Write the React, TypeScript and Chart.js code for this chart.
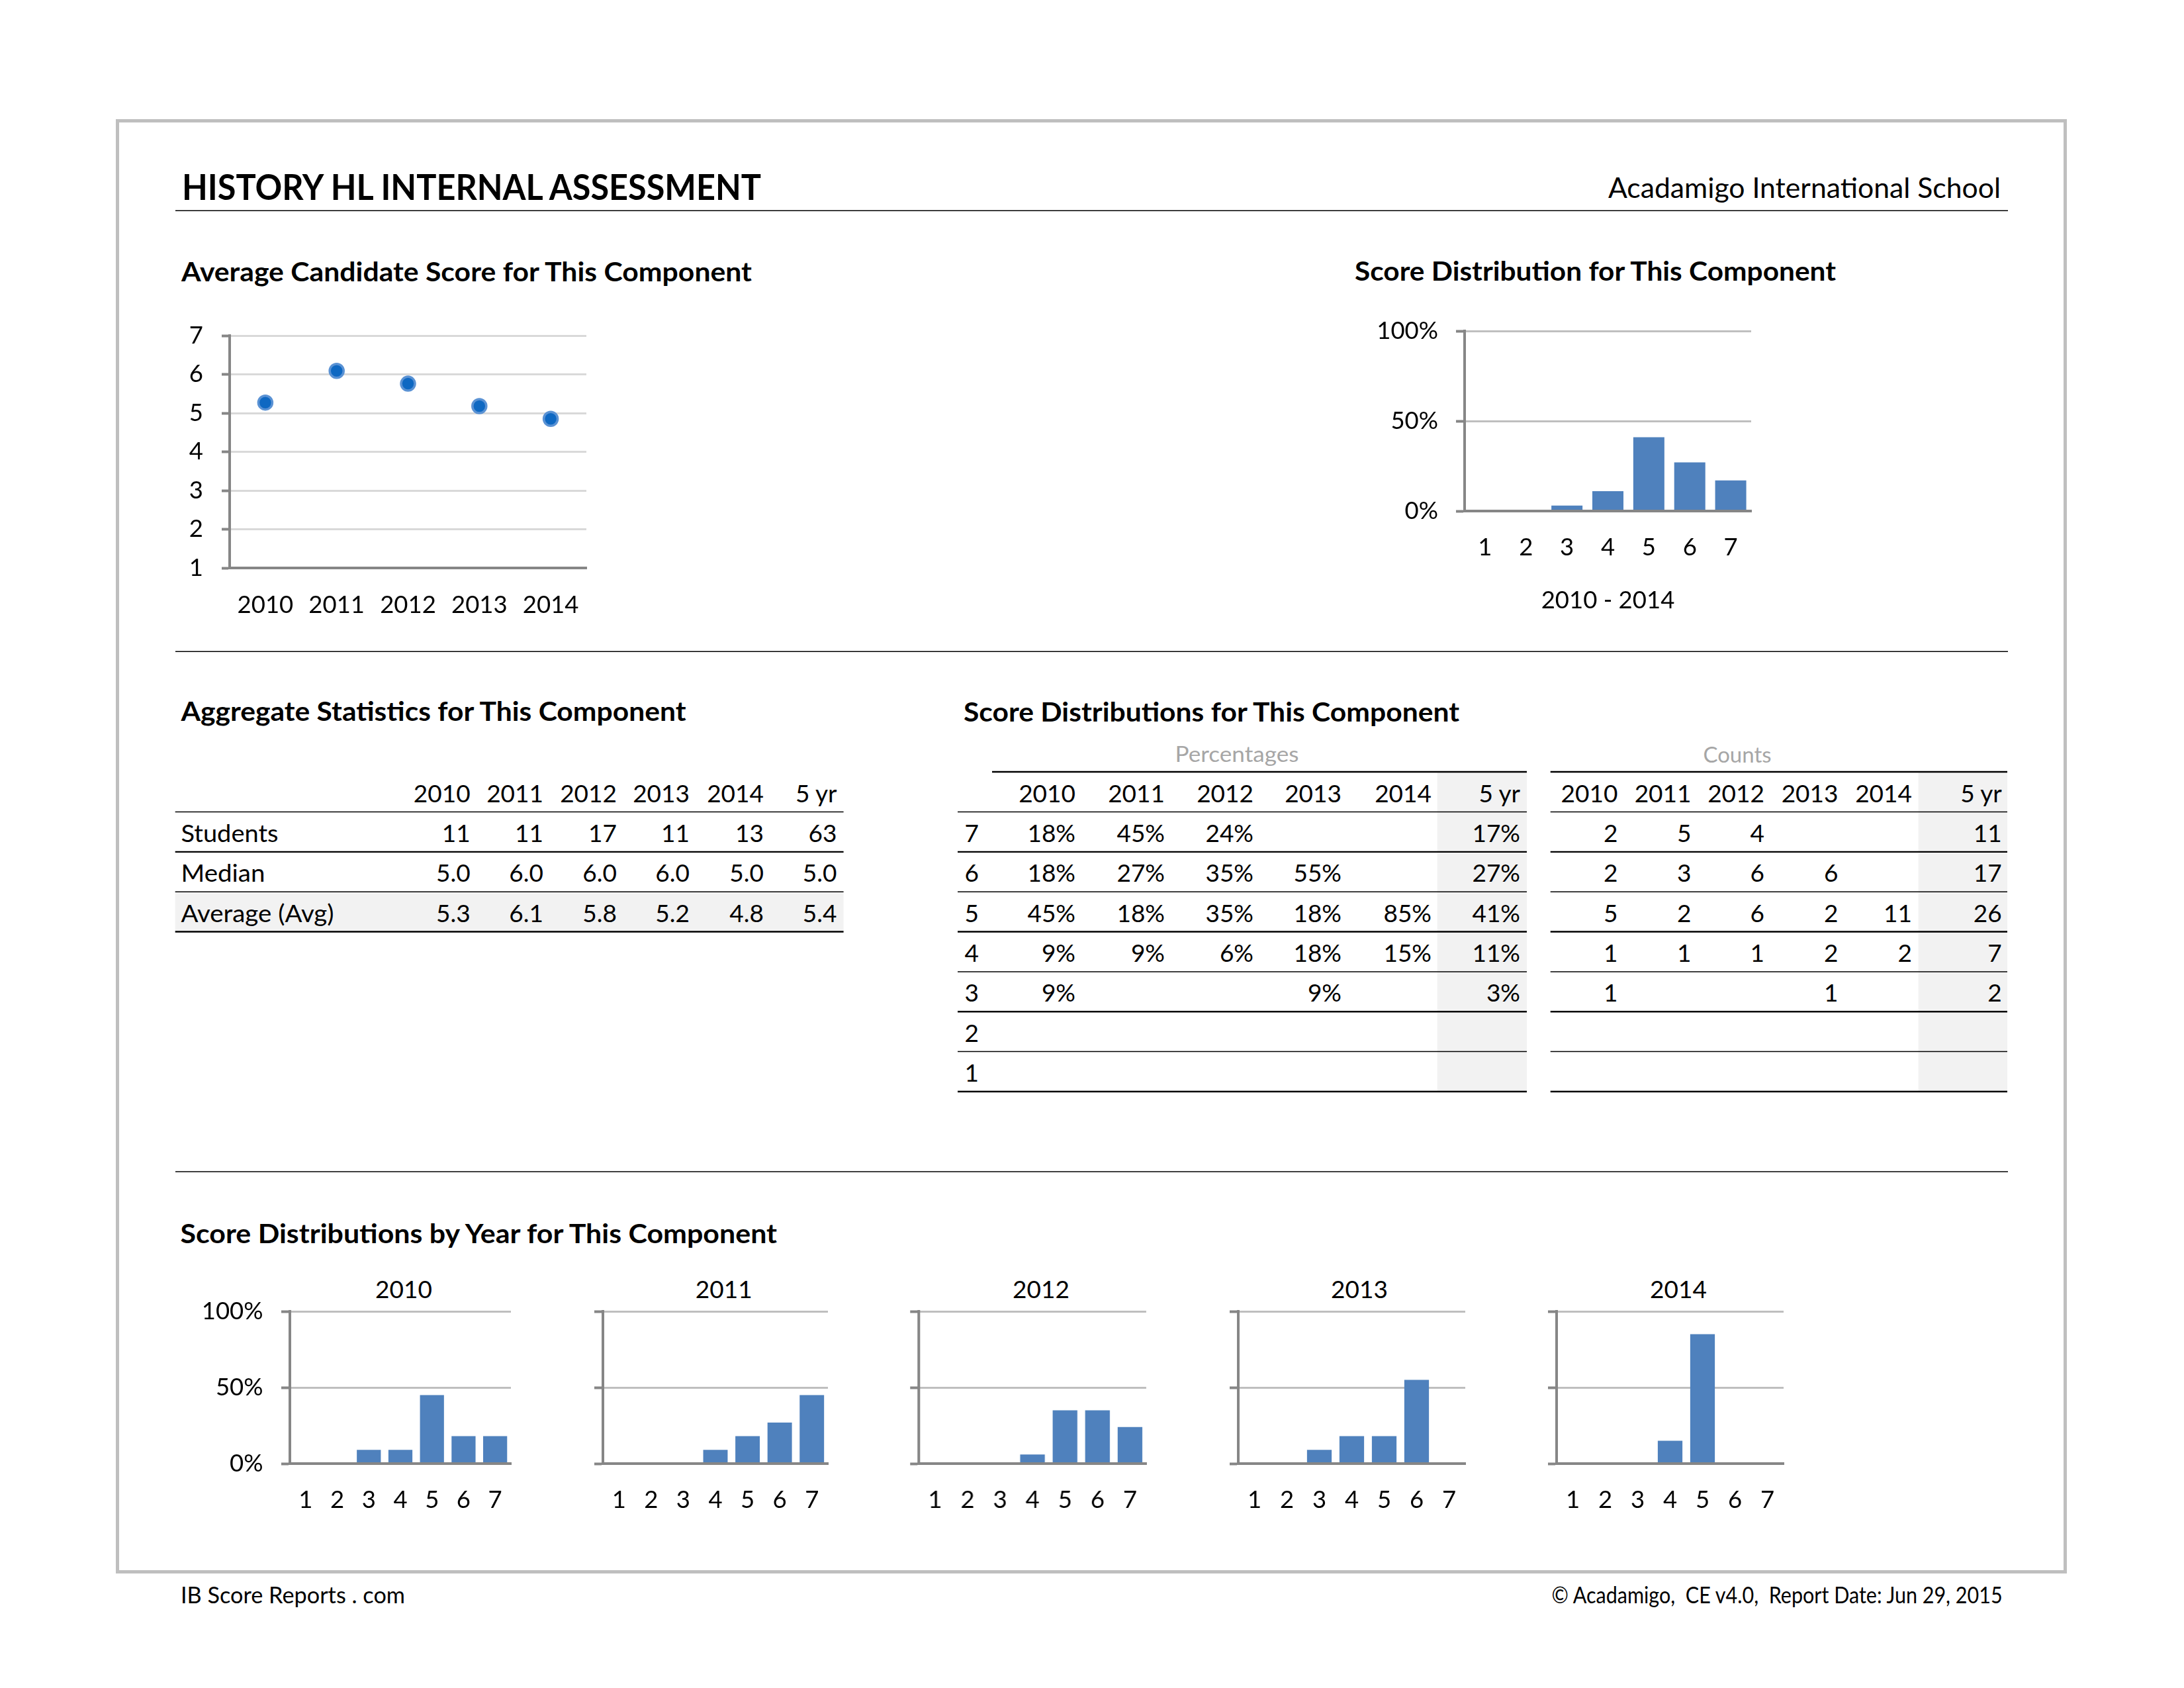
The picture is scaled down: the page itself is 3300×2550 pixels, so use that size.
import React, { useEffect, useRef } from "react";
import { Chart, registerables } from "chart.js";

Chart.register(...registerables);

// ---------------- DATA ----------------
const years = ["2010", "2011", "2012", "2013", "2014"];
const averageScores = [5.27, 6.09, 5.76, 5.18, 4.85];
const scoreLabels = ["1", "2", "3", "4", "5", "6", "7"];

// percentages by score 1..7
const pct2010 = [0, 0, 9, 9, 45, 18, 18];
const pct2011 = [0, 0, 0, 9, 18, 27, 45];
const pct2012 = [0, 0, 0, 6, 35, 35, 24];
const pct2013 = [0, 0, 9, 18, 18, 55, 0];
const pct2014 = [0, 0, 0, 15, 85, 0, 0];
const pct5yr = [0, 0, 3, 11, 41, 27, 17];

// counts by score 1..7
const cnt2010 = [0, 0, 1, 1, 5, 2, 2];
const cnt2011 = [0, 0, 0, 1, 2, 3, 5];
const cnt2012 = [0, 0, 0, 1, 6, 6, 4];
const cnt2013 = [0, 0, 1, 2, 2, 6, 0];
const cnt2014 = [0, 0, 0, 2, 11, 0, 0];
const cnt5yr = [0, 0, 2, 7, 26, 17, 11];

const statColumns = ["2010", "2011", "2012", "2013", "2014", "5 yr"];
const statRowLabels = ["Students", "Median", "Average (Avg)"];
const studentsRow = ["11", "11", "17", "11", "13", "63"];
const medianRow = ["5.0", "6.0", "6.0", "6.0", "5.0", "5.0"];
const averageRow = ["5.3", "6.1", "5.8", "5.2", "4.8", "5.4"];

const pctByYear = [pct2010, pct2011, pct2012, pct2013, pct2014];
const cntByYear = [cnt2010, cnt2011, cnt2012, cnt2013, cnt2014];

// ---------------- STYLE ----------------
const FONT = "Lato, 'Noto Sans', 'DejaVu Sans', sans-serif";
const AXIS = "#868686";
const BAR = "#4f81bd";
const tickFont = { family: FONT, size: 36.5 };

function ChartBox({ left, top, width, height, config }: any) {
  const ref = useRef<HTMLCanvasElement | null>(null);
  useEffect(() => {
    if (!ref.current) return;
    const chart = new Chart(ref.current, config);
    return () => chart.destroy();
  }, []);
  return (
    <div style={{ position: "absolute", left, top, width, height }}>
      <canvas ref={ref} width={width} height={height} style={{ display: "block", width, height }} />
    </div>
  );
}

const baseOptions = (padTop: number, padRight: number) => ({
  responsive: false,
  maintainAspectRatio: false,
  animation: false,
  devicePixelRatio: 1,
  events: [],
  layout: { padding: { top: padTop, right: padRight, bottom: 0, left: 0 } },
  plugins: { legend: { display: false }, tooltip: { enabled: false }, title: { display: false } },
});

function scatterConfig(yW: number, xH: number) {
  return {
    type: "line",
    data: {
      labels: years,
      datasets: [
        {
          data: averageScores,
          showLine: false,
          pointRadius: 10.5,
          pointHoverRadius: 10.5,
          pointBackgroundColor: "#0e68c2",
          pointBorderColor: "#5a92d4",
          pointBorderWidth: 3.5,
        },
      ],
    },
    options: {
      ...baseOptions(70, 40),
      scales: {
        x: {
          offset: true,
          grid: { display: true, drawOnChartArea: false, drawTicks: false },
          border: { display: true, color: AXIS, width: 4, z: 1 },
          ticks: { color: "#000", font: tickFont, padding: 34, maxRotation: 0, autoSkip: false },
          afterFit: (s: any) => {
            s.height = xH;
          },
        },
        y: {
          min: 1,
          max: 7,
          grid: { color: "#d9d9d9", lineWidth: 3, tickLength: 12, tickColor: AXIS, tickWidth: 4 },
          border: { display: true, color: AXIS, width: 4, z: 1 },
          ticks: { stepSize: 1, color: "#000", font: tickFont, padding: 28 },
          afterFit: (s: any) => {
            s.width = yW;
          },
        },
      },
    },
  };
}

function barConfig(values: number[], o: { yW: number; xH: number; showY: boolean; yPad: number; xTitle?: string }) {
  return {
    type: "bar",
    data: {
      labels: scoreLabels,
      datasets: [
        {
          data: values,
          backgroundColor: BAR,
          borderWidth: 0,
          categoryPercentage: 1,
          barPercentage: 0.76,
        },
      ],
    },
    options: {
      ...baseOptions(70, 40),
      scales: {
        x: {
          grid: { display: true, drawOnChartArea: false, drawTicks: false },
          border: { display: true, color: AXIS, width: 4, z: 1 },
          ticks: { color: "#000", font: tickFont, padding: 33, maxRotation: 0, autoSkip: false },
          title: {
            display: !!o.xTitle,
            text: o.xTitle || "",
            color: "#000",
            font: tickFont,
            padding: { top: 0, bottom: 21 },
          },
          afterFit: (s: any) => {
            s.height = o.xH;
          },
        },
        y: {
          min: 0,
          max: 100,
          grid: { color: "#bfbfbf", lineWidth: 3, tickLength: 13, tickColor: AXIS, tickWidth: 4 },
          border: { display: true, color: AXIS, width: 4, z: 1 },
          ticks: {
            display: o.showY,
            stepSize: 50,
            color: "#000",
            font: tickFont,
            padding: o.yPad,
            callback: (v: any) => `${v}%`,
          },
          afterFit: (s: any) => {
            s.width = o.yW;
          },
        },
      },
    },
  };
}

const Txt = ({ x, y, s, w = 400, a = "start", len, c = "#000", children }: any) => (
  <text
    x={x}
    y={y}
    fontSize={s}
    fontWeight={w}
    textAnchor={a}
    fill={c}
    fontFamily={FONT}
    textLength={len}
    lengthAdjust={len ? "spacingAndGlyphs" : undefined}
    style={{ whiteSpace: "pre" }}
  >
    {children}
  </text>
);

export default function App() {
  // table grid
  const ROW0 = 1226.5;
  const ROWH = 60.35;
  const lineY = (k: number) => ROW0 + k * ROWH;
  const HEAD_BASE = 1212;
  const ROW_BASE = 45.5;
  const TXT = 37;

  const aggCols = [710.7, 821, 932, 1042, 1154, 1264.5];
  const pctCols = [1625, 1760, 1894, 2027, 2163, 2297];
  const cntCols = [2444.4, 2555.5, 2666, 2777.5, 2889, 3024.7];
  const aggRows = [studentsRow, medianRow, averageRow];
  const aggLabelLen = [147, 127, 231];

  const distRows = [7, 6, 5, 4, 3, 2, 1];
  const fmtPct = (v: number) => (v > 0 ? `${v}%` : "");
  const fmtCnt = (v: number) => (v > 0 ? `${v}` : "");

  const lineW = (k: number) => (k % 2 === 1 ? 2.4 : 1.5);

  // small charts layout
  const smallL = [437.5, 910.7, 1388, 1870.5, 2351.7];
  const smallR = [772, 1251, 1731.6, 2214, 2694.7];
  const smallTitleX = [610, 1093.75, 1573, 2054, 2536];
  const smallTop = 1981;
  const smallBottom = 2211;

  return (
    <div style={{ position: "absolute", left: 0, top: 0, width: 3300, height: 2550, background: "#fff", overflow: "hidden" }}>
      <svg width={3300} height={2550} style={{ position: "absolute", left: 0, top: 0 }}>
        {/* outer frame */}
        <rect x={177.5} y={182.5} width={2943} height={2192} fill="none" stroke="#bfbfbf" strokeWidth={5} />

        {/* header */}
        <Txt x={275} y={301.5} s={53} w={700} len={875}>HISTORY HL INTERNAL ASSESSMENT</Txt>
        <Txt x={2430} y={298.5} s={42.5} len={593}>Acadamigo International School</Txt>
        <line x1={265} x2={3034} y1={318.3} y2={318.3} stroke="#000" strokeWidth={1.6} />

        {/* section headings */}
        <Txt x={274} y={425} s={40.5} w={700} len={862}>Average Candidate Score for This Component</Txt>
        <Txt x={2047} y={424.3} s={40.5} w={700} len={727}>Score Distribution for This Component</Txt>

        <line x1={265} x2={3034} y1={984.3} y2={984.3} stroke="#000" strokeWidth={1.5} />

        <Txt x={273.5} y={1089} s={40.5} w={700} len={763}>Aggregate Statistics for This Component</Txt>
        <Txt x={1456} y={1090} s={40.5} w={700} len={749}>Score Distributions for This Component</Txt>

        {/* aggregate table */}
        <rect x={264.7} y={lineY(2)} width={1274.6 - 264.7} height={lineY(3) - lineY(2)} fill="#f2f2f2" />
        {statColumns.map((c, i) => (
          <Txt key={"ah" + i} x={aggCols[i]} y={HEAD_BASE} s={TXT} a="end">{c}</Txt>
        ))}
        {aggRows.map((row, r) => (
          <g key={"ar" + r}>
            <Txt x={273.5} y={lineY(r) + ROW_BASE} s={TXT} len={aggLabelLen[r]}>{statRowLabels[r]}</Txt>
            {row.map((v, i) => (
              <Txt key={i} x={aggCols[i]} y={lineY(r) + ROW_BASE} s={TXT} a="end">{v}</Txt>
            ))}
          </g>
        ))}
        {[0, 1, 2, 3].map((k) => (
          <line key={"al" + k} x1={264.7} x2={1274.6} y1={lineY(k)} y2={lineY(k)} stroke="#000" strokeWidth={lineW(k)} />
        ))}

        {/* percentages table */}
        <rect x={2171.7} y={1166} width={2307 - 2171.7} height={lineY(7) - 1166} fill="#f2f2f2" />
        <Txt x={1869} y={1151} s={33.5} a="middle" c="#a6a6a6" len={187}>Percentages</Txt>
        <line x1={1499} x2={2307} y1={1166} y2={1166} stroke="#000" strokeWidth={2.4} />
        {statColumns.map((c, i) => (
          <Txt key={"ph" + i} x={pctCols[i]} y={HEAD_BASE} s={TXT} a="end">{c}</Txt>
        ))}
        {distRows.map((score, r) => {
          const vals = [...pctByYear.map((a) => a[score - 1]), pct5yr[score - 1]];
          return (
            <g key={"pr" + r}>
              <Txt x={1457.6} y={lineY(r) + ROW_BASE} s={TXT}>{String(score)}</Txt>
              {vals.map((v, i) => (
                <Txt key={i} x={pctCols[i]} y={lineY(r) + ROW_BASE} s={TXT} a="end">{fmtPct(v)}</Txt>
              ))}
            </g>
          );
        })}
        {[0, 1, 2, 3, 4, 5, 6, 7].map((k) => (
          <line key={"pl" + k} x1={1447} x2={2307} y1={lineY(k)} y2={lineY(k)} stroke="#000" strokeWidth={lineW(k)} />
        ))}

        {/* counts table */}
        <rect x={2898.6} y={1166} width={3033 - 2898.6} height={lineY(7) - 1166} fill="#f2f2f2" />
        <Txt x={2625} y={1152} s={33.5} a="middle" c="#a6a6a6" len={103}>Counts</Txt>
        <line x1={2342.7} x2={3033} y1={1166} y2={1166} stroke="#000" strokeWidth={2.4} />
        {statColumns.map((c, i) => (
          <Txt key={"ch" + i} x={cntCols[i]} y={HEAD_BASE} s={TXT} a="end">{c}</Txt>
        ))}
        {distRows.map((score, r) => {
          const vals = [...cntByYear.map((a) => a[score - 1]), cnt5yr[score - 1]];
          return (
            <g key={"cr" + r}>
              {vals.map((v, i) => (
                <Txt key={i} x={cntCols[i]} y={lineY(r) + ROW_BASE} s={TXT} a="end">{fmtCnt(v)}</Txt>
              ))}
            </g>
          );
        })}
        {[0, 1, 2, 3, 4, 5, 6, 7].map((k) => (
          <line key={"cl" + k} x1={2342.7} x2={3033} y1={lineY(k)} y2={lineY(k)} stroke="#000" strokeWidth={lineW(k)} />
        ))}

        <line x1={265} x2={3034} y1={1770} y2={1770} stroke="#000" strokeWidth={1.5} />

        <Txt x={272.5} y={1878} s={40.5} w={700} len={901.5}>Score Distributions by Year for This Component</Txt>
        {years.map((y, i) => (
          <Txt key={"st" + i} x={smallTitleX[i]} y={1961} s={TXT} a="middle">{y}</Txt>
        ))}

        {/* footer */}
        <Txt x={273} y={2422} s={34} len={339}>IB Score Reports . com</Txt>
        <Txt x={2344.6} y={2421.5} s={34} len={681}>{"© Acadamigo,  CE v4.0,  Report Date: Jun 29, 2015"}</Txt>
      </svg>

      {/* Average candidate score chart: area L347 R886 T507 B858 */}
      <ChartBox left={347 - 110} top={507 - 70} width={886 + 40 - (347 - 110)} height={858 + 92 - (507 - 70)} config={scatterConfig(110, 92)} />

      {/* 5 yr distribution: area L2213 R2646 T500 B772 */}
      <ChartBox
        left={2213 - 130}
        top={500 - 70}
        width={2646 + 40 - (2213 - 130)}
        height={772 + 178 - (500 - 70)}
        config={barConfig(pct5yr, { yW: 130, xH: 178, showY: true, yPad: 27, xTitle: "2010 - 2014" })}
      />

      {pctByYear.map((vals, i) => (
        <ChartBox
          key={"sc" + i}
          left={smallL[i] - 130}
          top={smallTop - 70}
          width={smallR[i] + 40 - (smallL[i] - 130)}
          height={smallBottom + 89 - (smallTop - 70)}
          config={barConfig(vals, { yW: 130, xH: 89, showY: i === 0, yPad: 27.5 })}
        />
      ))}
    </div>
  );
}
